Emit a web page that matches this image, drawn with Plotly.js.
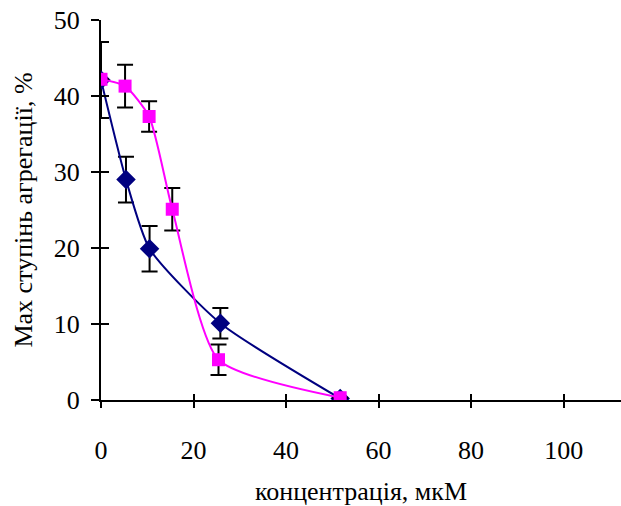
<!DOCTYPE html>
<html><head><meta charset="utf-8">
<script src="https://cdn.plot.ly/plotly-3.0.1.min.js"></script>
<style>body{margin:0;background:#fff}#c{width:621px;height:506px}</style>
</head><body><div id="c"></div>
<script>
const xBlue = [0, 5.4, 10.5, 25.8, 51.7];
const yBlue = [42.1, 29.0, 19.9, 10.1, 0.2];
const eBlue = [5.0, 3.0, 3.0, 2.0, 0];
const xPink = [0, 5.2, 10.4, 15.4, 25.4, 51.7];
const yPink = [42.2, 41.3, 37.3, 25.1, 5.3, 0.3];
const ePink = [0, 2.8, 2.0, 2.8, 2.0, 0];
const xTicks = [0, 20, 40, 60, 80, 100];
const yTicks = [0, 10, 20, 30, 40, 50];

const fam = '"Liberation Serif", "Times New Roman", serif';
const traces = [
  {x: xBlue, y: yBlue, type: 'scatter', mode: 'lines+markers',
   line: {color: '#000080', width: 2, shape: 'spline', smoothing: 0.6},
   marker: {symbol: 'diamond', size: 15, color: '#000080'},
   error_y: {type: 'data', array: eBlue, visible: true, color: '#000', thickness: 2, width: 8}},
  {x: xPink, y: yPink, type: 'scatter', mode: 'lines+markers',
   line: {color: '#FF00FF', width: 2, shape: 'spline', smoothing: 0.6},
   marker: {symbol: 'square', size: 13, color: '#FF00FF'},
   error_y: {type: 'data', array: ePink, visible: true, color: '#000', thickness: 2, width: 8}},
  {x: [0], y: [0], xaxis: 'x2', yaxis: 'y2', mode: 'markers', marker: {opacity: 0}, hoverinfo: 'skip'}
];
const layout = {
  width: 621, height: 506, showlegend: false,
  paper_bgcolor: '#fff', plot_bgcolor: 'rgba(0,0,0,0)',
  margin: {l: 101, r: 0, t: 20, b: 106},
  font: {family: fam, color: '#000'},
  xaxis: {range: [0, 112.4], tickvals: xTicks, ticks: 'outside', ticklen: 6, tickwidth: 2, tickcolor: '#000',
    ticklabelstandoff: 20,
    showline: true, linecolor: '#000', linewidth: 2, showgrid: false, zeroline: false,
    tickfont: {family: fam, size: 26, color: '#000'},
    title: {text: 'концентрація, мкМ', font: {family: fam, size: 26, color: '#000'}, standoff: 26}},
  yaxis: {range: [0, 50], tickvals: yTicks, ticks: 'outside', ticklen: 8, tickwidth: 2, tickcolor: '#000',
    ticklabelstandoff: 6,
    showline: true, linecolor: '#000', linewidth: 2, showgrid: false, zeroline: false,
    tickfont: {family: fam, size: 26, color: '#000'},
    title: {text: 'Max ступінь агрегації, %', font: {family: fam, size: 26, color: '#000'}, standoff: 14}},
  xaxis2: {overlaying: 'x', range: [0, 112.4], tickvals: xTicks, ticks: 'inside', ticklen: 6, tickwidth: 2,
    tickcolor: '#000', showticklabels: false, showgrid: false, zeroline: false, showline: false},
  yaxis2: {overlaying: 'y', range: [0, 50], tickvals: yTicks, ticks: 'inside', ticklen: 8, tickwidth: 2,
    tickcolor: '#000', showticklabels: false, showgrid: false, zeroline: false, showline: false}
};
Plotly.newPlot('c', traces, layout, {staticPlot: true});
</script></body></html>
